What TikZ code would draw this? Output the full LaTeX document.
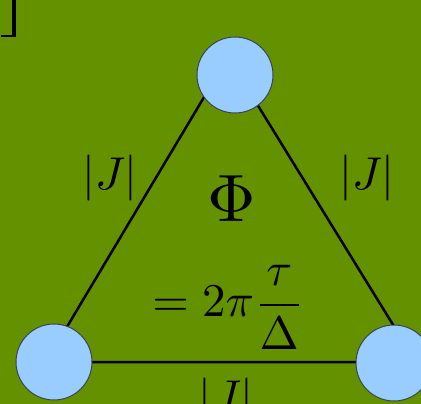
\documentclass[tikz,border=0pt]{standalone}
\usepackage{graphicx}
\usepackage{amsmath}
\definecolor{bg}{RGB}{99,145,0}
\definecolor{nodefill}{RGB}{153,204,255}
\definecolor{nodeline}{RGB}{60,70,80}
\begin{document}
\begin{tikzpicture}[x=1pt,y=-1pt,
  site/.style={circle,fill=nodefill,draw=nodeline,line width=1pt,minimum size=76pt,inner sep=0pt},
  bond/.style={line width=2.5pt,black},
  lab/.style={inner sep=0pt}]
\fill[bg] (0,0) rectangle (421,404);
\useasboundingbox (0,0) rectangle (421,404);
% partial bracket
\draw[line width=3.8pt,black] (14,-2) -- (14,37.3);
\draw[line width=2.8pt,black] (1,36) -- (15.9,36);
% triangle corners
\coordinate (A) at (228,57);
\coordinate (B) at (46,362);
\coordinate (C) at (416,362);
\draw[bond] (A) -- (B) -- (C) -- cycle;
% sites
\node[site] (top) at (235,75) {};
\node[site] (left) at (54,362) {};
\node[site] (right) at (394,363) {};
% labels
\node[lab] (jl) at (110,178) {\scalebox{4.6}{$|J|$}};
\node[lab] (jr) at (367,178) {\scalebox{4.6}{$|J|$}};
\node[lab] (jb) at (226,401) {\scalebox{4.6}{$|J|$}};
\node[lab] (phi) at (231.5,199) {\scalebox{6.7}{$\Phi$}};
\node[lab] (eq) at (228.5,307) {\scalebox{4.7}{$\displaystyle =2\pi\frac{\tau}{\Delta}$}};
\end{tikzpicture}
\end{document}
